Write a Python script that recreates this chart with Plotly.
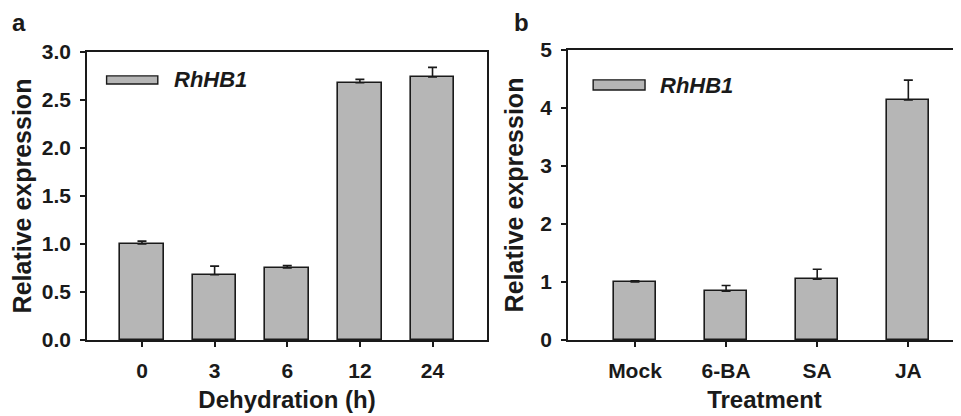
import plotly.graph_objects as go

# Panel a: dehydration time course
dehyd_labels = ["0", "3", "6", "12", "24"]
dehyd_values = [1.00, 0.68, 0.75, 2.68, 2.74]
dehyd_errors = [0.03, 0.09, 0.025, 0.035, 0.10]

# Panel b: hormone treatments
treat_labels = ["Mock", "6-BA", "SA", "JA"]
treat_values = [1.00, 0.84, 1.05, 4.14]
treat_errors = [0.02, 0.10, 0.17, 0.34]

a_yticks = [0.0, 0.5, 1.0, 1.5, 2.0, 2.5, 3.0]
a_yticktext = ["0.0", "0.5", "1.0", "1.5", "2.0", "2.5", "3.0"]
b_yticks = [0, 1, 2, 3, 4, 5]

series_name = "RhHB1"

OFF = 8  # page body margin
W, H = 961 - OFF, 416 - OFF
FONT = "Liberation Sans, Arial, Helvetica, sans-serif"
BAR_FILL = "#b6b6b6"
INK = "#1a1a1a"


def fx(px):
    return (px - OFF) / W


def fy(py):
    return 1 - (py - OFF) / H


fig = go.Figure()

fig.add_trace(go.Bar(
    x=list(range(len(dehyd_labels))), y=dehyd_values, width=0.6,
    marker=dict(color=BAR_FILL, line=dict(color=INK, width=1.6)),
    error_y=dict(type="data", symmetric=False, array=dehyd_errors,
                 arrayminus=[0] * len(dehyd_errors), color=INK, thickness=1.6, width=4.5),
    xaxis="x", yaxis="y", name=series_name, showlegend=False,
))
fig.add_trace(go.Bar(
    x=list(range(len(treat_labels))), y=treat_values, width=0.46,
    marker=dict(color=BAR_FILL, line=dict(color=INK, width=1.6)),
    error_y=dict(type="data", symmetric=False, array=treat_errors,
                 arrayminus=[0] * len(treat_errors), color=INK, thickness=1.6, width=4.5),
    xaxis="x2", yaxis="y2", name=series_name, showlegend=False,
))

tickfont = dict(family=FONT, size=21, color=INK, weight="bold")
xtitlefont = dict(family=FONT, size=24, color=INK, weight="bold")
ytitlefont = dict(family=FONT, size=25, color=INK, weight="bold")

axis_common = dict(showline=True, linecolor=INK, linewidth=1.6, ticks="outside",
                   ticklen=5, tickwidth=1.5, tickcolor=INK, showgrid=False,
                   zeroline=False, tickfont=tickfont, automargin=False)

fig.update_layout(
    width=W, height=H,
    margin=dict(l=0, r=0, t=0, b=0),
    paper_bgcolor="white", plot_bgcolor="white",
    showlegend=False, bargap=0,
    xaxis=dict(domain=[fx(87), fx(487)], anchor="y", mirror=True,
               range=[-0.757, 4.75], tickmode="array",
               tickvals=list(range(len(dehyd_labels))), ticktext=dehyd_labels,
               ticklabelstandoff=6,
               title=dict(text="Dehydration (h)", font=xtitlefont, standoff=10),
               **axis_common),
    yaxis=dict(domain=[fy(340), fy(52)], anchor="x", mirror=True,
               range=[0, 3.0], tickmode="array", tickvals=a_yticks, ticktext=a_yticktext,
               ticklabelstandoff=5,
               title=dict(text="Relative expression", font=ytitlefont, standoff=4),
               **axis_common),
    xaxis2=dict(domain=[fx(568), 1.0], anchor="y2", mirror=True,
                range=[-0.735, 3.578], tickmode="array",
                tickvals=list(range(len(treat_labels))), ticktext=treat_labels,
                ticklabelstandoff=6,
                title=dict(text="Treatment", font=xtitlefont, standoff=10),
                **axis_common),
    yaxis2=dict(domain=[fy(340), fy(50)], anchor="x2", mirror=False,
                range=[0, 5], tickmode="array", tickvals=b_yticks,
                ticklabelstandoff=5,
                title=dict(text="Relative expression", font=ytitlefont, standoff=10),
                **axis_common),
)

# Legend-like keys (wide rectangle + italic label), one per panel
legend_specs = [
    ("x", "y", 0.049, 0.177, 0.889, 0.917, 0.2125, 0.903),
    ("x2", "y2", 0.064, 0.196, 0.862, 0.897, 0.229, 0.879),
]
for xr, yr, x0, x1, y0, y1, tx, ty in legend_specs:
    fig.add_shape(type="rect", xref=f"{xr} domain", yref=f"{yr} domain",
                  x0=x0, x1=x1, y0=y0, y1=y1,
                  fillcolor=BAR_FILL, line=dict(color=INK, width=1.4))
    fig.add_annotation(xref=f"{xr} domain", yref=f"{yr} domain", x=tx, y=ty,
                       text=f"<i>{series_name}</i>", showarrow=False,
                       xanchor="left", yanchor="middle",
                       font=dict(family=FONT, size=22, color=INK, weight="bold"))

# Panel letters
for letter, px in [("a", 10), ("b", 512)]:
    fig.add_annotation(xref="paper", yref="paper", x=fx(px), y=fy(38),
                       text=letter, showarrow=False, xanchor="left", yanchor="bottom",
                       font=dict(family=FONT, size=24, color=INK, weight="bold"))

fig.write_html("out.html")
